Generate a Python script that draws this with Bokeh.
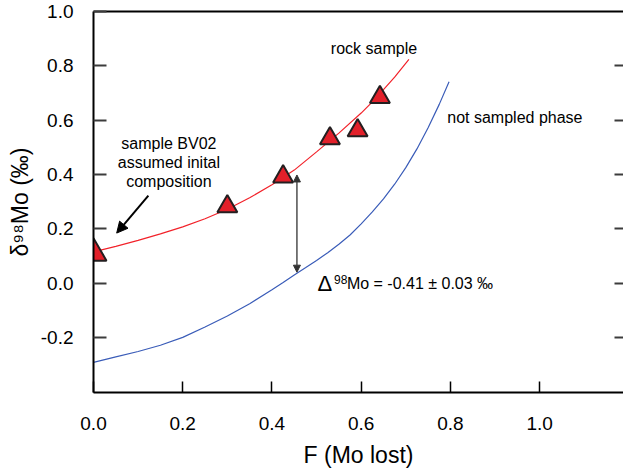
from bokeh.plotting import figure
from bokeh.models import (Range1d, LinearAxis, FixedTicker, NumeralTickFormatter,
                          Label, Arrow, NormalHead, CustomJSTickFormatter, Title)
from bokeh.embed import file_html
from bokeh.resources import INLINE

# ---- data ----
x_ticks = [0.0, 0.2, 0.4, 0.6, 0.8, 1.0]
y_ticks = [-0.2, 0.0, 0.2, 0.4, 0.6, 0.8, 1.0]

initial_F = [0.0]
initial_d = [0.11]
sample_F = [0.300, 0.425, 0.530, 0.592, 0.642]
sample_d = [0.282, 0.392, 0.532, 0.562, 0.684]

rock_F = [0.00, 0.05, 0.10, 0.15, 0.20, 0.25, 0.30, 0.35, 0.40, 0.45, 0.50, 0.55,
          0.60, 0.625, 0.65, 0.675, 0.707]
rock_d = [0.115, 0.135, 0.157, 0.181, 0.207, 0.237, 0.272, 0.314, 0.362, 0.416, 0.483, 0.552,
          0.626, 0.667, 0.712, 0.758, 0.824]

phase_F = [0.00, 0.05, 0.10, 0.15, 0.20, 0.25, 0.30, 0.35, 0.40, 0.425, 0.45, 0.475, 0.50,
           0.525, 0.55, 0.575, 0.60, 0.625, 0.65, 0.675, 0.70, 0.725, 0.75, 0.775, 0.797]
phase_d = [-0.292, -0.272, -0.252, -0.229, -0.200, -0.162, -0.121, -0.076, -0.025, 0.002, 0.030,
           0.056, 0.083, 0.112, 0.143, 0.177, 0.218, 0.262, 0.310, 0.364, 0.425, 0.494, 0.572,
           0.658, 0.741]

FONT = "Liberation Sans"

p = figure(frame_width=530, frame_height=381,
           x_range=Range1d(0, 1.188), y_range=Range1d(-0.403, 1.0),
           output_backend="svg", toolbar_location=None,
           min_border_left=93, min_border_right=0, min_border_top=11, min_border_bottom=0)
p.xgrid.visible = False
p.ygrid.visible = False
p.outline_line_color = None

# left axis
ya = p.yaxis[0]
ya.ticker = FixedTicker(ticks=y_ticks)
ya.formatter = NumeralTickFormatter(format="0.0")
ya.axis_line_width = 2
ya.axis_line_color = "black"
ya.major_tick_in = 13
ya.major_tick_out = 0
ya.major_tick_line_color = "#3c3c3c"
ya.major_tick_line_width = 2
ya.minor_tick_line_color = None
ya.major_label_standoff = 20
ya.major_label_text_font = FONT
ya.major_label_text_font_size = "19px"
ya.major_label_text_color = "black"
ya.axis_label = "\u03b4\u2079\u2078Mo (\u2030)"
ya.axis_label_text_font = FONT
ya.axis_label_text_font_size = "23px"
ya.axis_label_text_font_style = "normal"
ya.axis_label_text_color = "black"
ya.axis_label_standoff = 5

# bottom axis
xa = p.xaxis[0]
xa.ticker = FixedTicker(ticks=x_ticks)
xa.formatter = NumeralTickFormatter(format="0.0")
xa.axis_line_width = 2
xa.axis_line_color = "black"
xa.major_tick_in = 11
xa.major_tick_out = 0
xa.major_tick_line_color = "black"
xa.major_tick_line_width = 1.5
xa.minor_tick_line_color = None
xa.major_label_standoff = 24
xa.major_label_text_font = FONT
xa.major_label_text_font_size = "19px"
xa.major_label_text_color = "black"

blank = CustomJSTickFormatter(code="return ''")

top = LinearAxis(ticker=FixedTicker(ticks=[]), formatter=blank,
                 axis_line_width=2, axis_line_color="black",
                 major_tick_in=0, major_tick_out=0, minor_tick_line_color=None,
                 major_label_standoff=0, major_label_text_font_size="0px")
p.add_layout(top, "above")

right = LinearAxis(ticker=FixedTicker(ticks=y_ticks[:-1]), formatter=blank,
                   axis_line_color=None,
                   major_tick_in=9, major_tick_out=0, major_tick_line_color="#3c3c3c",
                   major_tick_line_width=2, minor_tick_line_color=None,
                   major_label_standoff=0, major_label_text_font_size="0px")
p.add_layout(right, "right")

# x-axis title as a below-panel title, shifted left like the reference
p.add_layout(Title(text="F (Mo lost)", align="center", offset=-30, standoff=14,
                   text_font=FONT, text_font_size="23px", text_font_style="normal",
                   text_color="black"), "below")

# curves
p.line(rock_F, rock_d, line_color="#f2222a", line_width=1.2)
p.line(phase_F, phase_d, line_color="#3a5cb8", line_width=1.2)

# arrows
p.add_layout(Arrow(x_start=0.456, y_start=0.040, x_end=0.456, y_end=0.398,
                   line_color="#333333", line_width=1.3,
                   start=NormalHead(size=7, fill_color="#333333", line_color="#333333"),
                   end=NormalHead(size=7, fill_color="#333333", line_color="#333333")))
p.add_layout(Arrow(x_start=0.123, y_start=0.322, x_end=0.052, y_end=0.184,
                   line_color="black", line_width=2,
                   end=NormalHead(size=11, fill_color="black", line_color="black")))

# samples
p.scatter(initial_F, initial_d, marker="triangle", size=26,
          fill_color="#e2202a", line_color="#231f20", line_width=2)
p.scatter(sample_F, sample_d, marker="triangle", size=20,
          fill_color="#e2202a", line_color="#231f20", line_width=2)

def lab(x, y, text, size, align="left", baseline="alphabetic", angle=0.0):
    p.add_layout(Label(x=x, y=y, text=text, text_font=FONT, text_font_size=size,
                       text_align=align, text_baseline=baseline, angle=angle,
                       text_color="black"))

lab(0.169, 0.515, "sample BV02", "16px", align="center")
lab(0.169, 0.445, "assumed inital", "16px", align="center")
lab(0.169, 0.374, "composition", "16px", align="center")
lab(0.532, 0.864, "rock sample", "16px")
lab(0.793, 0.610, "not sampled phase", "16px")

lab(0.502, 0.0, "\u0394", "22px")
lab(0.539, 0.0147, "98", "12px")
lab(0.568, 0.0, "Mo = -0.41 \u00b1 0.03 \u2030", "16px")

open("out.html", "w").write(file_html(p, INLINE))
